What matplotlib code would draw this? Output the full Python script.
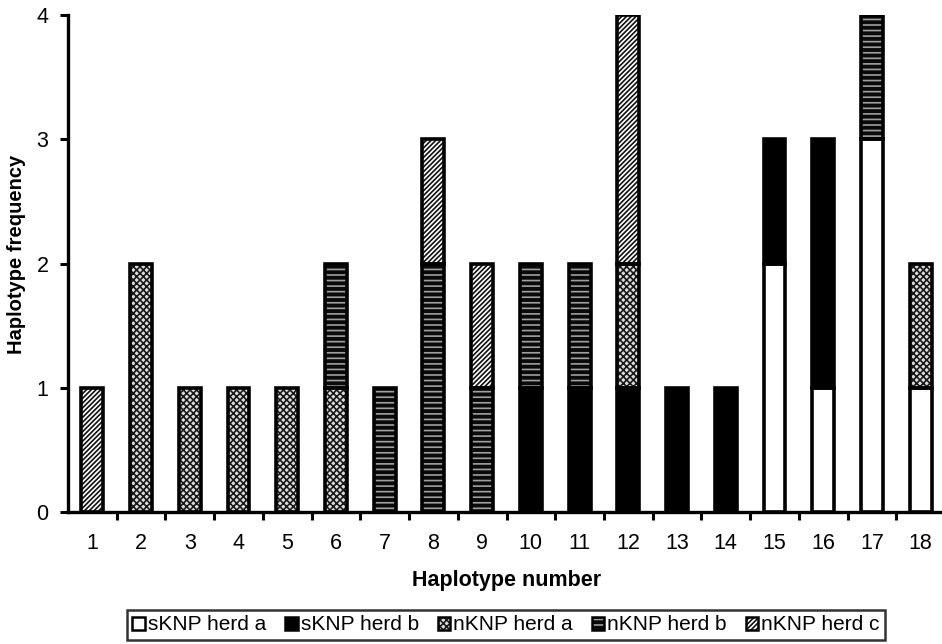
import numpy as np
import matplotlib
matplotlib.use("Agg")
import matplotlib.pyplot as plt
from matplotlib.patches import Patch
from matplotlib.legend_handler import HandlerTuple

plt.rcParams['font.family'] = ['Liberation Sans', 'DejaVu Sans']
plt.rcParams['hatch.linewidth'] = 1.2

haplotypes = [str(i) for i in range(1, 19)]
series_names = ["sKNP herd a", "sKNP herd b", "nKNP herd a", "nKNP herd b", "nKNP herd c"]
sknp_a = [0, 0, 0, 0, 0, 0, 0, 0, 0, 0, 0, 0, 0, 0, 2, 1, 3, 1]
sknp_b = [0, 0, 0, 0, 0, 0, 0, 0, 0, 1, 1, 1, 1, 1, 1, 2, 0, 0]
nknp_a = [0, 2, 1, 1, 1, 1, 0, 0, 0, 0, 0, 1, 0, 0, 0, 0, 0, 1]
nknp_b = [0, 0, 0, 0, 0, 1, 1, 2, 1, 1, 1, 0, 0, 0, 0, 0, 1, 0]
nknp_c = [1, 0, 0, 0, 0, 0, 0, 1, 1, 0, 0, 2, 0, 0, 0, 0, 0, 0]
yticks = [0, 1, 2, 3, 4]

# style per series: (facecolor, hatch, hatchcolor)
styles = [
    ("white", None, None),
    ("black", None, None),
    ("#dddddd", "xxxxx", "#1a1a1a"),
    ("#0a0a0a", "---", "#a0a0a0"),
    ("white", "///////", "#111111"),
]

fig = plt.figure(figsize=(9.42, 6.44), dpi=100)
ax = fig.add_axes([68/942, 132/644, 877/942, 497/644])

x = np.arange(1, len(haplotypes) + 1)
width = 0.45
bottom = np.zeros(len(x))
handles = []
for vals, name, (fc, hatch, hc) in zip([sknp_a, sknp_b, nknp_a, nknp_b, nknp_c], series_names, styles):
    v = np.array(vals, dtype=float)
    m = v > 0
    ax.bar(x[m], v[m], width, bottom=bottom[m], color=fc, edgecolor='none', linewidth=0, zorder=2)
    if hatch:
        ax.bar(x[m], v[m], width, bottom=bottom[m], fill=False, hatch=hatch, edgecolor=hc, linewidth=0, zorder=3)
    ax.bar(x[m], v[m], width, bottom=bottom[m], fill=False, edgecolor='black', linewidth=2.6, zorder=4)
    bottom += v
    p1 = Patch(facecolor=fc, edgecolor='none')
    p3 = Patch(fill=False, edgecolor='black', linewidth=1.8)
    if hatch:
        p2 = Patch(fill=False, hatch=hatch, edgecolor=hc, linewidth=0)
        handles.append(((p1, p2, p3), name))
    else:
        handles.append(((p1, p3), name))

ax.set_xlim(0.5, len(x) + 0.5)
ax.set_ylim(0, 4)
ax.set_yticks(yticks)
ax.set_yticklabels([str(t) for t in yticks])
ax.set_xticks(np.arange(1.5, len(x) + 0.5, 1.0))
ax.set_xticklabels([])
ax.set_xticks(x, minor=True)
ax.set_xticklabels(haplotypes, minor=True)
ax.tick_params(axis='x', which='major', direction='out', length=6, width=2.2)
ax.tick_params(axis='x', which='minor', length=0, pad=15, labelsize=15.5)
ax.tick_params(axis='y', direction='out', length=6, width=2.2, labelsize=15.5, pad=8)

for s in ['top', 'right']:
    ax.spines[s].set_visible(False)
for s in ['left', 'bottom']:
    ax.spines[s].set_linewidth(2.4)

ax.set_xlabel("Haplotype number", fontsize=15.5, fontweight='bold')
ax.set_ylabel("Haplotype frequency", fontsize=14.5, fontweight='bold')
ax.xaxis.set_label_coords((507 - 68) / 877, -(570 - 512) / 497)
ax.yaxis.set_label_coords((26 - 68) / 877, (512 - 254) / 497)

leg = fig.legend([h for h, _ in handles], [n for _, n in handles], loc='center',
                 bbox_to_anchor=(506/942, 1 - 625/644), ncol=5, frameon=True, fancybox=False,
                 fontsize=15, handlelength=0.6, handleheight=0.6, handletextpad=0.15,
                 columnspacing=0.9, borderpad=0.25, borderaxespad=0,
                 handler_map={tuple: HandlerTuple(ndivide=1)})
leg.get_frame().set_edgecolor('black')
leg.get_frame().set_linewidth(1.8)

fig.savefig("out.png", dpi=100)
